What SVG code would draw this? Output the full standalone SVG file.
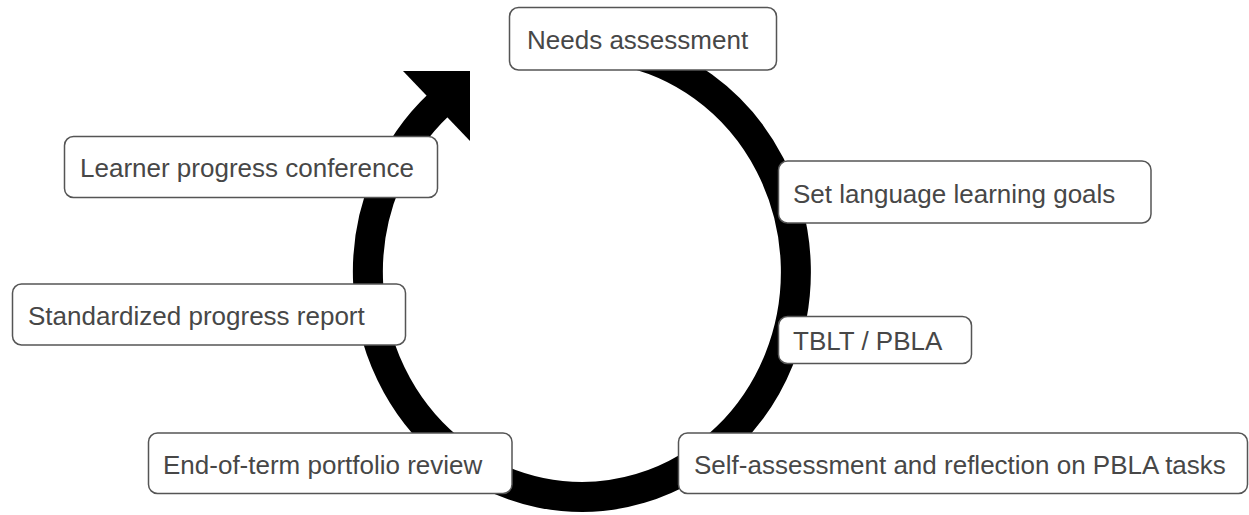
<svg xmlns="http://www.w3.org/2000/svg" width="1249" height="515" viewBox="0 0 1249 515">
  <style>
    .box { fill: #ffffff; stroke: #555555; stroke-width: 1.5; }
    .label { font-family: "Liberation Sans", Arial, Helvetica, sans-serif; font-size: 26px; fill: #474747; }
    .ring { fill: none; stroke: #000000; stroke-width: 30; stroke-linecap: butt; }
  </style>

  <!-- cycle arrow: thick elliptical arc ending in a right-angled head -->
  <g id="connectors">
    <path class="ring" d="M 620 50.6 A 214 225 0 1 1 439 104.5"/>
    <polygon points="403,71 470,71 470,141" fill="#000000"/>
  </g>

  <g id="needs-assessment">
    <rect class="box" x="509.5" y="7.5" width="267" height="62.5" rx="9"/>
    <text class="label" x="527" y="49">Needs assessment</text>
  </g>

  <g id="set-goals">
    <rect class="box" x="778.5" y="161" width="372.5" height="62" rx="9"/>
    <text class="label" x="793" y="202.5">Set language learning goals</text>
  </g>

  <g id="tblt-pbla">
    <rect class="box" x="778.5" y="316.5" width="193" height="47" rx="9"/>
    <text class="label" x="793" y="350">TBLT / PBLA</text>
  </g>

  <g id="self-assessment">
    <rect class="box" x="678.5" y="433" width="569" height="60.5" rx="9"/>
    <text class="label" x="694" y="473.5">Self-assessment and reflection on PBLA tasks</text>
  </g>

  <g id="portfolio-review">
    <rect class="box" x="148.5" y="433" width="363.5" height="60.5" rx="9"/>
    <text class="label" x="163" y="473.5">End-of-term portfolio review</text>
  </g>

  <g id="progress-report">
    <rect class="box" x="12.5" y="284" width="393" height="61" rx="9"/>
    <text class="label" x="28" y="324.5">Standardized progress report</text>
  </g>

  <g id="progress-conference">
    <rect class="box" x="64.5" y="136.5" width="373" height="61" rx="9"/>
    <text class="label" x="80" y="177">Learner progress conference</text>
  </g>
</svg>
